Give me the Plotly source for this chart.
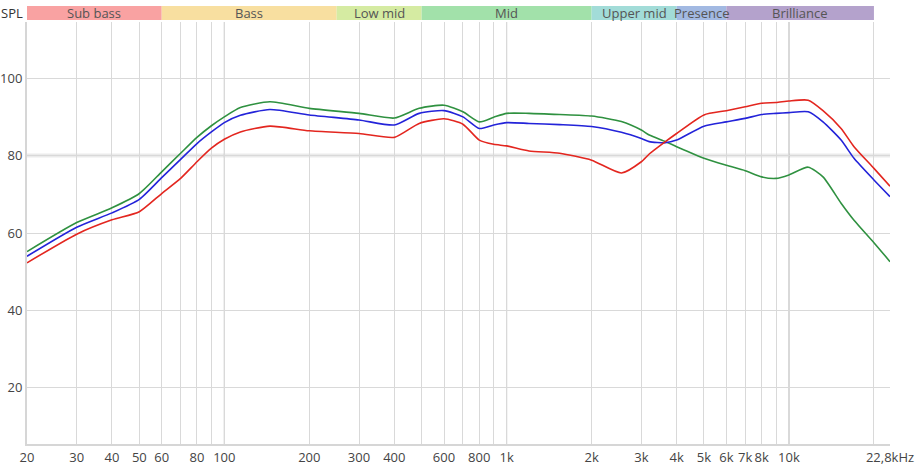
import numpy as np
import plotly.graph_objects as go

# ============================================================================ #
# Data

freqs = [20, 30, 40, 50, 60, 70, 80, 90, 100, 114, 145, 200, 300, 400, 490,
         600, 700, 800, 900, 1000, 1200, 1540, 2000, 2550, 3000, 3200,
         3650, 4000, 5000, 6000, 7000, 8000, 9000, 10000, 11700, 13200, 15300,
         17000, 20000, 22800]

green_spl = [55.2, 62.7, 66.5, 70.2, 75.8, 80.6, 84.7, 87.7, 90.0, 92.4, 93.9,
             92.2, 90.9, 89.7, 92.2, 93.0, 91.3, 88.7, 89.9, 90.9, 90.9, 90.6,
             90.2, 88.8, 86.6, 85.3, 83.6, 82.3, 79.3, 77.5, 76.1, 74.5,
             74.1, 75.0, 77.0, 74.5, 67.7, 63.3, 57.5, 52.6]

blue_spl = [54.0, 61.5, 65.2, 68.7, 74.3, 79.0, 83.1, 86.1, 88.5, 90.4, 91.9,
            90.5, 89.2, 87.9, 90.9, 91.6, 90.0, 87.0, 87.9, 88.5, 88.3, 88.0,
            87.5, 86.0, 84.4, 83.6, 83.3, 84.0, 87.6, 88.7, 89.6, 90.6,
            90.9, 91.1, 91.3, 88.7, 84.0, 79.3, 73.7, 69.4]

red_spl = [52.3, 59.7, 63.4, 65.5, 70.2, 74.1, 78.4, 81.9, 84.2, 86.1, 87.6,
           86.4, 85.7, 84.7, 88.3, 89.5, 88.1, 84.0, 82.9, 82.5, 81.2, 80.6,
           78.8, 75.5, 78.4, 80.4, 83.6, 85.7, 90.5, 91.6, 92.6, 93.5,
           93.7, 94.1, 94.3, 91.6, 87.0, 82.3, 76.7, 72.1]

band_names = ["Sub bass", "Bass", "Low mid", "Mid", "Upper mid", "Presence", "Brilliance"]
band_edges = [20, 60, 250, 500, 2000, 4000, 6000, 20000]
band_colors = ["#f9a2a2", "#f8dfa0", "#d5eba2", "#a2e1aa", "#a2dcd8", "#a2b9e2", "#b4a2cc"]

grid_freqs = [20, 30, 40, 50, 60, 70, 80, 90, 100, 200, 300, 400, 500, 600, 700,
              800, 900, 1000, 2000, 3000, 4000, 5000, 6000, 7000, 8000, 9000,
              10000, 20000, 22800]
grid_labels = ["20", "30", "40", "50", "60", "", "80", "", "100", "200", "300",
               "400", "", "600", "", "800", "", "1k", "2k", "3k", "4k", "5k",
               "6k", "7k", "8k", "", "10k", "", "22,8kHz"]
spl_ticks = [20, 40, 60, 80, 100]

FONT = "Open Sans"

# ============================================================================ #

fig = go.Figure()

for name, vals, color in [("green", green_spl, "#2f9140"),
                          ("blue", blue_spl, "#2323d9"),
                          ("red", red_spl, "#e3261f")]:
    fig.add_trace(go.Scatter(
        x=freqs, y=vals, mode="lines", name=name,
        line=dict(color=color, width=1.6, shape="spline", smoothing=0.6),
        showlegend=False,
    ))

# MARK: frequency bands above the plot
for i, name in enumerate(band_names):
    x0, x1 = band_edges[i], band_edges[i + 1]
    fig.add_shape(type="rect", xref="x", yref="paper", x0=x0, x1=x1,
                  y0=1.0045, y1=1.038, fillcolor=band_colors[i],
                  line=dict(width=0), layer="above")
    fig.add_annotation(x=np.log10(np.sqrt(x0 * x1)), y=1.021, xref="x", yref="paper",
                       xanchor="center", yanchor="middle",
                       text=name, showarrow=False,
                       font=dict(family=FONT, size=13, color="#555"))

# thicker reference line at 80 dB
fig.add_shape(type="line", xref="paper", yref="y", x0=0, x1=1, y0=80, y1=80,
              line=dict(color="#ebebeb", width=4), layer="below")

# darker decade lines
for f in [100, 1000, 10000]:
    fig.add_shape(type="line", xref="x", yref="paper", x0=f, x1=f, y0=0, y1=1,
                  line=dict(color="#a8a8a8", width=1), layer="below")

fig.add_annotation(x=0, y=1.021, xref="paper", yref="paper",
                   xanchor="right", yanchor="middle",
                   text="SPL", showarrow=False, xshift=-2,
                   font=dict(family=FONT, size=13, color="#333"))

fig.update_xaxes(
    type="log",
    range=[np.log10(20), np.log10(22800)],
    tickvals=grid_freqs,
    ticktext=grid_labels,
    tickangle=0,
    automargin=False,
    showgrid=True, gridcolor="#d9d9d9", gridwidth=1,
    showline=True, linecolor="#d6d6d6", linewidth=2,
    zeroline=False, ticks="",
    tickfont=dict(family=FONT, size=13, color="#444"),
)
fig.update_yaxes(
    range=[5.5, 114.5],
    tickvals=spl_ticks,
    automargin=False,
    showgrid=True, gridcolor="#d9d9d9", gridwidth=1,
    showline=True, linecolor="#d6d6d6", linewidth=2,
    zeroline=False, ticks="",
    tickfont=dict(family=FONT, size=13, color="#444"),
)

fig.update_layout(
    width=915, height=468,
    margin=dict(l=27, r=25, t=22, b=24, autoexpand=False),
    paper_bgcolor="white", plot_bgcolor="white",
    font=dict(family=FONT),
)

# page body has a default 8px margin; drop it so the chart sits at 0,0
fig.write_html("out.html", config={"displayModeBar": False},
               post_script="document.body.style.margin='0';")
